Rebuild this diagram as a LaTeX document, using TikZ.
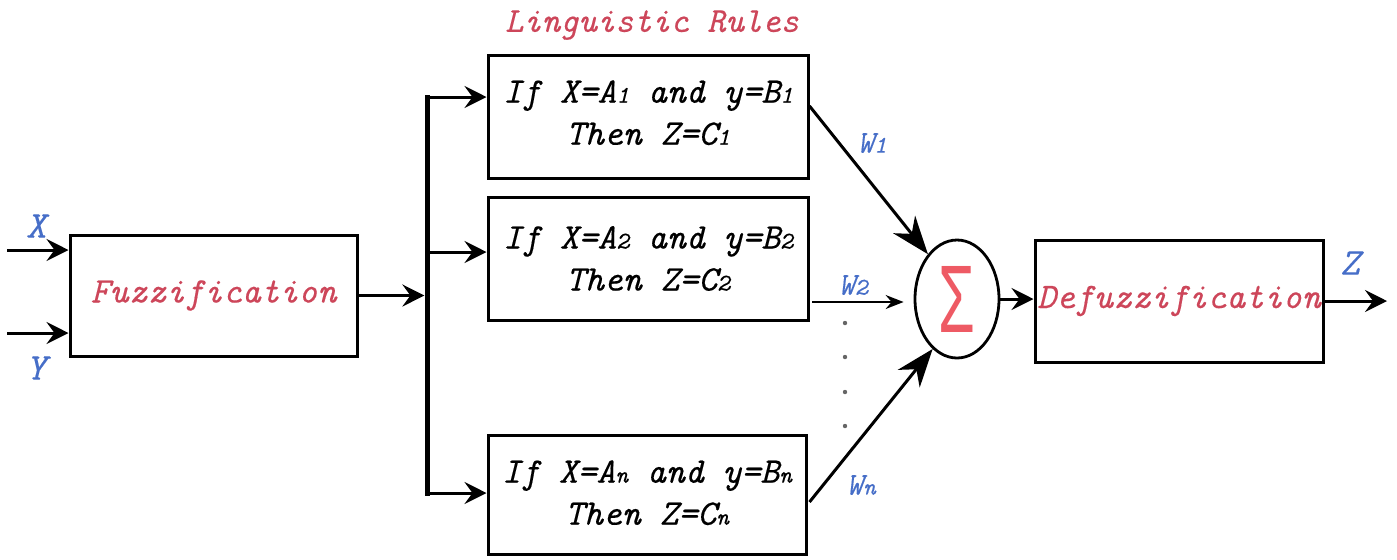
\documentclass[tikz,border=0pt]{standalone}
\usepackage{fontspec}
\usepackage{graphicx}
\setmainfont{Liberation Serif}
\newfontfamily\monofont{Latin Modern Mono}[ItalicFeatures={FakeBold=0.3}]
\newfontfamily\sigfont{Liberation Sans}
\usetikzlibrary{arrows.meta,shapes.geometric,calc}
\definecolor{txtred}{RGB}{205,70,90}
\definecolor{lblue}{RGB}{70,110,200}
\definecolor{sigred}{RGB}{238,90,100}
\newcommand{\sbn}[1]{{\fontsize{12pt}{12pt}\selectfont #1}}
\begin{document}
\begin{tikzpicture}[x=0.5pt,y=-0.5pt,
  box/.style={draw, line width=1.5pt, inner sep=0pt, align=center,
    font=\monofont\itshape\fontsize{18pt}{21pt}\selectfont},
  arr/.style={line width=1.5pt, -{Stealth[length=11pt,width=11pt,inset=4pt]}},
  bigarr/.style={line width=1.5pt, -{Stealth[length=19pt,width=14pt,inset=6pt]}},
  thinarr/.style={line width=0.9pt, -{Stealth[length=9pt,width=7pt,inset=3pt]}},
  lbl/.style={text=lblue, inner sep=0pt, font=\monofont\itshape\fontsize{19pt}{19pt}\selectfont},
  wlbl/.style={text=lblue, inner sep=0pt, font=\monofont\itshape\fontsize{16pt}{16pt}\selectfont},
  redtxt/.style={text=txtred}
]
\useasboundingbox (0,0) rectangle (1397,559);
\fill[white] (0,0) rectangle (1397,559);

% boxes
\node[box, minimum width=143.5pt, minimum height=60.5pt, text=txtred] (fuzz) at (213.5,295.5) {Fuzzification};
\node[box, minimum width=160pt, minimum height=61.5pt] (r1) at (648,116.5)
  {\raisebox{4pt}{If X=A\sbn{1} and y=B\sbn{1}}\\\raisebox{4pt}{Then Z=C\sbn{1}}};
\node[box, minimum width=160pt, minimum height=61.5pt] (r2) at (648,258.5)
  {If X=A\sbn{2} and y=B\sbn{2}\\Then Z=C\sbn{2}};
\node[box, minimum width=159pt, minimum height=59.5pt] (rn) at (647,494.5)
  {\raisebox{2pt}{If X=A\sbn{n} and y=B\sbn{n}}\\\raisebox{2pt}{Then Z=C\sbn{n}}};
\node[draw, ellipse, line width=1.4pt, inner sep=0pt,
  minimum width=42pt, minimum height=59pt, text=sigred,
  font=\sigfont\fontsize{48pt}{48pt}\selectfont] (sum) at (957,299)
  {\raisebox{-1pt}{\scalebox{0.62}[1]{Σ}}};
\node[box, minimum width=144pt, minimum height=61pt, text=txtred] (defuzz) at (1179,301) {Defuzzification};

% labels
\node[redtxt, inner sep=0pt, font=\monofont\itshape\fontsize{17.5pt}{17.5pt}\selectfont] (title) at (652,25) {Linguistic Rules};
\node[lbl] (xl) at (36,226) {X};
\node[lbl] (yl) at (36,368) {Y};
\node[lbl] (zl) at (1350,263) {Z};
\node[wlbl] (w1) at (872,143) {W\sbn{1}};
\node[wlbl] (w2) at (853,285) {W\sbn{2}};
\node[wlbl] (wn) at (861,485) {W\sbn{n}};

% inputs
\coordinate (xin) at (7,250);
\coordinate (yin) at (7,333);
\draw[arr] (xin) -- (xin -| fuzz.west);
\draw[arr] (yin) -- (yin -| fuzz.west);

% bus
\coordinate (bustop) at (427,97);
\coordinate (busmid) at (427,252);
\coordinate (busbot) at (427,493);
\draw[line width=2.5pt, line cap=rect] (bustop) -- (busbot);
\draw[arr, shorten >=1.3pt] (fuzz.east) -- (fuzz.east -| busmid);
\draw[arr] (bustop) -- (bustop -| r1.west);
\draw[arr] (busmid) -- (busmid -| r2.west);
\draw[arr] (busbot) -- (busbot -| rn.west);

% to summation
\draw[bigarr] ($(r1.east)+(0,-10.5)$) -- (sum.123);
\draw[bigarr] ($(rn.east)+(2,7.5)$) -- (sum.244);
\coordinate (w2s) at (812,302);
\draw[thinarr, shorten >=5pt] (w2s) -- (w2s -| sum.west);
\foreach \yy in {323,357,392,426} \fill[black!60] (845,\yy) circle (1.1pt);

% output
\draw[arr] (sum.east) -- (sum.east -| defuzz.west);
\coordinate (zout) at (1387,301);
\draw[arr] (defuzz.east) -- (zout);
\end{tikzpicture}
\end{document}
